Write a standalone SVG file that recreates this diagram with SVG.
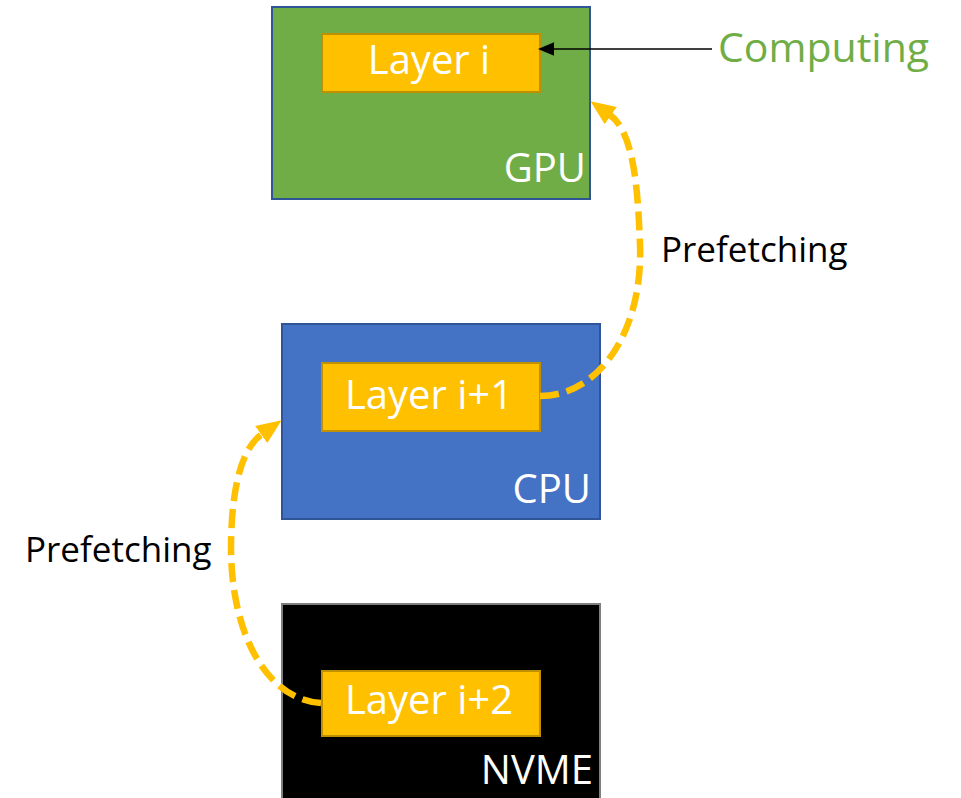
<svg xmlns="http://www.w3.org/2000/svg" width="961" height="798" viewBox="0 0 961 798">
  <style>
    .mem { stroke-width: 2; }
    .layer { fill: #FFC000; stroke: #BF9000; stroke-width: 2; }
    .wt { font-family: "Open Sans", "Liberation Sans", sans-serif; font-size: 40px; fill: #FFFFFF; }
    .lbl { font-family: "Open Sans", "Liberation Sans", sans-serif; font-size: 35px; fill: #000000; }
    .prefetch { fill: none; stroke: #FFC000; stroke-width: 6.5; stroke-dasharray: 19 8; }
  </style>
  <defs>
    <marker id="headY" markerUnits="userSpaceOnUse" markerWidth="25" markerHeight="21" refX="1" refY="10.5" orient="auto" viewBox="0 0 25 21">
      <path d="M0,0 L25,10.5 L0,21 Z" fill="#FFC000"/>
    </marker>
    <marker id="headK" markerUnits="userSpaceOnUse" markerWidth="16" markerHeight="14" refX="0" refY="6" orient="auto" viewBox="0 0 14 12">
      <path d="M0,0 L14,6 L0,12 Z" fill="#000000"/>
    </marker>
  </defs>

  <g id="gpu">
    <rect class="mem" x="272" y="7" width="318" height="192" fill="#70AD47" stroke="#2F5597"/>
    <rect class="layer" x="322" y="34" width="218" height="58"/>
    <text class="wt" x="429" y="74" text-anchor="middle">Layer i</text>
    <text class="wt" x="586" y="182" text-anchor="end">GPU</text>
  </g>

  <g id="cpu">
    <rect class="mem" x="282" y="324" width="318" height="195" fill="#4472C4" stroke="#2F5597"/>
    <rect class="layer" x="322" y="363" width="218" height="68"/>
    <text class="wt" x="429" y="409" text-anchor="middle">Layer i+1</text>
    <text class="wt" x="591" y="503" text-anchor="end">CPU</text>
  </g>

  <g id="nvme">
    <rect class="mem" x="282" y="604" width="318" height="200" fill="#000000" stroke="#7F7F7F"/>
    <rect class="layer" x="322" y="671" width="218" height="65"/>
    <text class="wt" x="429" y="714" text-anchor="middle">Layer i+2</text>
    <text class="wt" x="593" y="784" text-anchor="end">NVME</text>
  </g>

  <g id="computing-label">
    <text x="718" y="62" font-family="'Open Sans', 'Liberation Sans', sans-serif" font-size="41" fill="#70AD47">Computing</text>
  </g>
  <g id="prefetch-labels">
    <text class="lbl" x="661" y="262">Prefetching</text>
    <text class="lbl" x="25" y="562">Prefetching</text>
  </g>

  <g id="connectors">
    <path d="M712,49 L554,49" stroke="#000000" stroke-width="1.5" fill="none" marker-end="url(#headK)"/>
    <path class="prefetch" d="M540,396 C600,396 643,330 640,245 C638,190 634,132 610,115" marker-end="url(#headY)"/>
    <path class="prefetch" d="M321,703 C270,700 232,640 231,550 C231,500 238,451 262,434" marker-end="url(#headY)"/>
  </g>
</svg>
